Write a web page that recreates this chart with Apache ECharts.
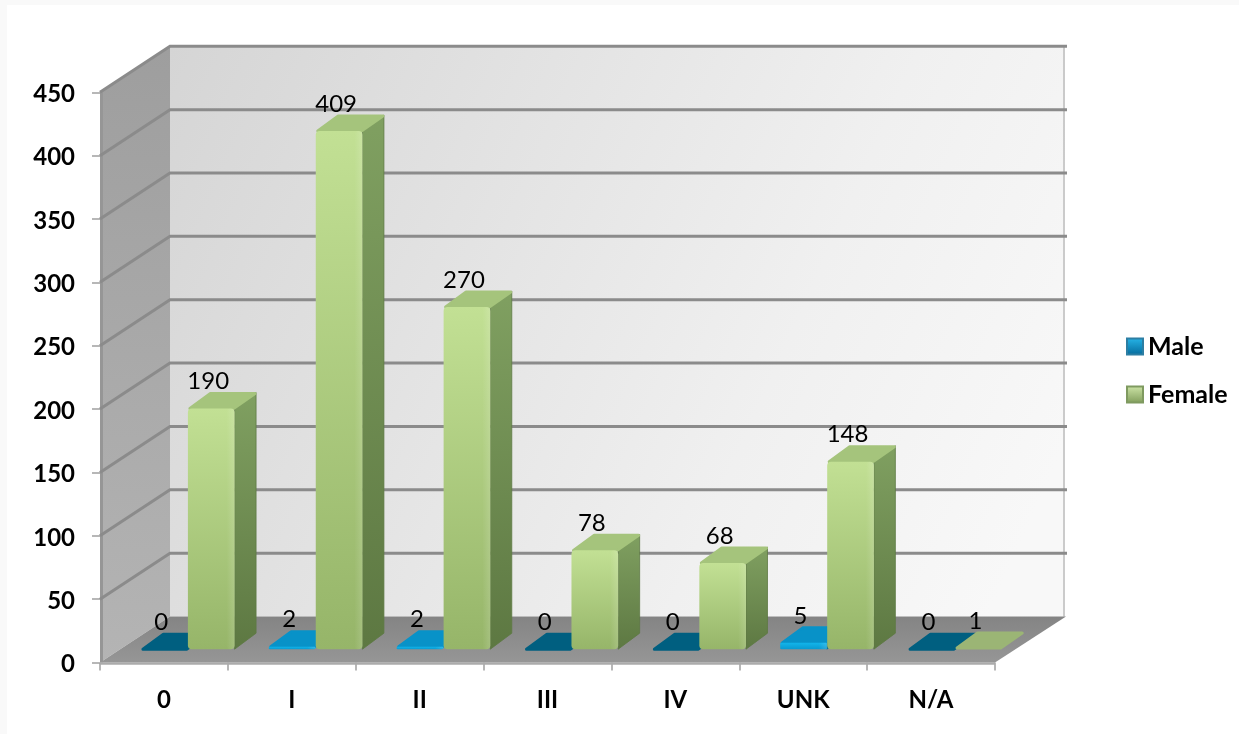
<!DOCTYPE html>
<html>
<head>
<meta charset="utf-8">
<title>Male / Female by stage</title>
<script src="https://cdn.jsdelivr.net/npm/echarts@6/dist/echarts.min.js"></script>
<style>
  html, body { margin: 0; padding: 0; background: #f9f9f9; }
  #chart { width: 1239px; height: 734px; }
</style>
</head>
<body>
<div id="chart"></div>
<script>
// data
const categories = ['0', 'I', 'II', 'III', 'IV', 'UNK', 'N/A']
const maleValues = [0, 2, 2, 0, 0, 5, 0]
const femaleValues = [190, 409, 270, 78, 68, 148, 1]
const yTicks = [50, 100, 150, 200, 250, 300, 350, 400, 450]

// fake 3d depth, in px
const wallDx = 70
const wallDy = -46
const barDx = 21.5
const barDy = -16
const floorLift = 13.3 // bars stand a bit behind the front edge
const fontName = 'Lato'

const grad = (x2, y2, c1, c2) => ({
  type: 'linear', x: 0, y: 0, x2, y2,
  colorStops: [{ offset: 0, color: c1 }, { offset: 1, color: c2 }]
})

// back wall, side wall
const renderWalls = (params, api) => {
  const cs = params.coordSys
  const left = cs.x, right = cs.x + cs.width
  const top = cs.y, bottom = cs.y + cs.height
  return {
    type: 'group',
    children: [
      { type: 'polygon',
        shape: { points: [[left + wallDx, top + wallDy], [right + wallDx, top + wallDy], [right + wallDx, bottom + wallDy], [left + wallDx, bottom + wallDy]] },
        style: { fill: {
          type: 'linear', x: 0, y: 0, x2: 1, y2: 0.7,
          colorStops: [{ offset: 0, color: '#d5d5d5' }, { offset: 0.7, color: '#f0f0f0' }, { offset: 1, color: '#f8f8f8' }]
        } } },
      { type: 'polygon',
        shape: { points: [[left, top], [left + wallDx, top + wallDy], [left + wallDx, bottom + wallDy], [left, bottom]] },
        style: { fill: grad(0, 1, '#9e9e9e', '#b4b4b4') } },
      { type: 'line',
        shape: { x1: right + wallDx - 1, y1: top + wallDy, x2: right + wallDx - 1, y2: bottom + wallDy },
        style: { stroke: '#bdbdbd', lineWidth: 1.5 } },
      { type: 'line',
        shape: { x1: left + 1.5, y1: top, x2: left + 1.5, y2: bottom },
        style: { stroke: '#969696', lineWidth: 3 } }
    ]
  }
}

// grid line runs along the side wall and then over the back wall
const renderGridLine = (params, api) => {
  const cs = params.coordSys
  const y = api.coord([0, api.value(1)])[1]
  const left = cs.x, right = cs.x + cs.width
  return {
    type: 'polyline',
    shape: { points: [[left, y], [left + wallDx, y + wallDy], [right + wallDx + 2, y + wallDy]] },
    style: { stroke: '#8b8b8b', lineWidth: 3, fill: 'none', lineJoin: 'miter' }
  }
}

const renderFloor = (params, api) => {
  const cs = params.coordSys
  const left = cs.x, right = cs.x + cs.width
  const bottom = cs.y + cs.height
  return {
    type: 'group',
    children: [
      { type: 'polygon',
        shape: { points: [[left, bottom], [right, bottom], [right + wallDx + 1, bottom + wallDy], [left + wallDx, bottom + wallDy]] },
        style: { fill: grad(0, 1, '#848484', '#969696') } },
      { type: 'line',
        shape: { x1: left, y1: bottom + 1, x2: right, y2: bottom + 1 },
        style: { stroke: '#ababab', lineWidth: 2.5 } }
    ]
  }
}

const makeBarRenderer = (startShare, pick) => (params, api) => {
  const idx = api.value(0)
  const val = api.value(1)
  const center = api.coord([idx, 0])
  const band = api.size([1, 0])[0]
  const x = center[0] + startShare * band
  const w = band * 0.365
  const yBottom = center[1] - floorLift
  const yTop = api.coord([idx, val])[1] - floorLift
  const c = pick(val)
  const h = yBottom - yTop
  const children = []

  if (h > 3) {
    // right face
    children.push({ type: 'polygon',
      shape: { points: [[x + w, yTop], [x + w + barDx, yTop + barDy], [x + w + barDx, yBottom + barDy], [x + w, yBottom]] },
      style: { fill: grad(0, 1, c.side1, c.side2), stroke: c.side2, lineWidth: 0.8, lineJoin: 'round' } })
  }
  // top face
  children.push({ type: 'polygon',
    shape: { points: [[x + 2, yTop], [x + barDx + 1, yTop + barDy + 1], [x + w + barDx - 1, yTop + barDy + 1], [x + w - 1, yTop]] },
    style: { fill: c.top, lineJoin: 'round', stroke: c.top, lineWidth: 3 } })
  if (h > 1.5) {
    // front face, with the light bevel at the right and top edge
    const r = h > 8 ? 4 : 1
    children.push({ type: 'rect',
      shape: { x, y: yTop, width: w, height: h, r },
      style: { fill: grad(0, 1, c.front1, c.front2) } })
    children.push({ type: 'rect',
      shape: { x: x + w - 8, y: yTop, width: 8, height: h, r },
      style: { fill: grad(1, 0, 'rgba(255,255,255,0)', 'rgba(255,255,255,0.14)') } })
  }
  children.push({ type: 'text',
    style: {
      text: String(val),
      x: x + w / 2 - 3,
      y: yTop - 27,
      fill: '#000',
      font: '24px ' + fontName,
      align: 'center',
      verticalAlign: 'middle'
    } })
  return { type: 'group', children }
}

const greenBar = val => ({
  front1: '#c2e094', front2: '#96b569',
  side1: '#80a061', side2: '#5d7842',
  top: val > 1 ? '#a5c47c' : '#9bb575'
})
const blueBar = val => ({
  front1: '#12b4ea', front2: '#0a9ad0',
  side1: '#0a6f99', side2: '#0a6f99',
  top: val > 0 ? '#0892c8' : '#005f80'
})

const chart = echarts.init(document.getElementById('chart'))
const axisFont = { color: '#000', fontFamily: fontName, fontWeight: 'bold', fontSize: 24 }

chart.setOption({
  animation: false,
  backgroundColor: '#f9f9f9',
  graphic: [{
    type: 'rect', z: -1, silent: true,
    shape: { x: 7, y: 5, width: 1232, height: 729 },
    style: { fill: '#fff' }
  }],
  grid: { left: 100, top: 92.3, width: 895, height: 570.2 },
  legend: {
    left: 1126,
    top: 334,
    padding: 0,
    orient: 'vertical',
    icon: 'rect',
    data: ['Male', 'Female'],
    itemWidth: 16,
    itemHeight: 16,
    itemGap: 23,
    textStyle: { ...axisFont, fontSize: 25 },
    selectedMode: false
  },
  xAxis: {
    type: 'category',
    data: categories,
    axisLine: { show: false },
    axisTick: { show: true, length: 8, inside: false, lineStyle: { color: '#a0a0a0', width: 1.5 } },
    axisLabel: { ...axisFont, margin: 26 },
    splitLine: { show: false }
  },
  yAxis: {
    type: 'value',
    min: 0,
    max: 450,
    interval: 50,
    axisLine: { show: false },
    axisTick: { show: true, length: 8, lineStyle: { color: '#a0a0a0', width: 1.5 } },
    axisLabel: {
      ...axisFont,
      margin: 25,
      formatter: '{v|{value}}',
      rich: { v: { ...axisFont, padding: [4, 0, 0, 0] } }
    },
    splitLine: { show: false }
  },
  series: [
    { type: 'custom', silent: true, renderItem: renderWalls, data: [[0, 0]], encode: { x: 0, y: 1 } },
    { type: 'custom', silent: true, renderItem: renderGridLine, data: yTicks.map(t => [0, t]), encode: { x: 0, y: 1 } },
    { type: 'custom', silent: true, renderItem: renderFloor, data: [[0, 0]], encode: { x: 0, y: 1 } },
    {
      name: 'Male', type: 'custom', silent: true,
      renderItem: makeBarRenderer(-0.18, blueBar),
      itemStyle: { color: grad(0, 1, '#27b6ea', '#04699a'), borderColor: '#2d7ea3', borderWidth: 1 },
      data: maleValues.map((v, i) => [i, v]),
      encode: { x: 0, y: 1 }
    },
    {
      name: 'Female', type: 'custom', silent: true,
      renderItem: makeBarRenderer(0.1875, greenBar),
      itemStyle: { color: grad(0, 1, '#cfe6a8', '#7f9c5a'), borderColor: '#7f9a60', borderWidth: 1 },
      data: femaleValues.map((v, i) => [i, v]),
      encode: { x: 0, y: 1 }
    }
  ]
})
</script>
</body>
</html>
